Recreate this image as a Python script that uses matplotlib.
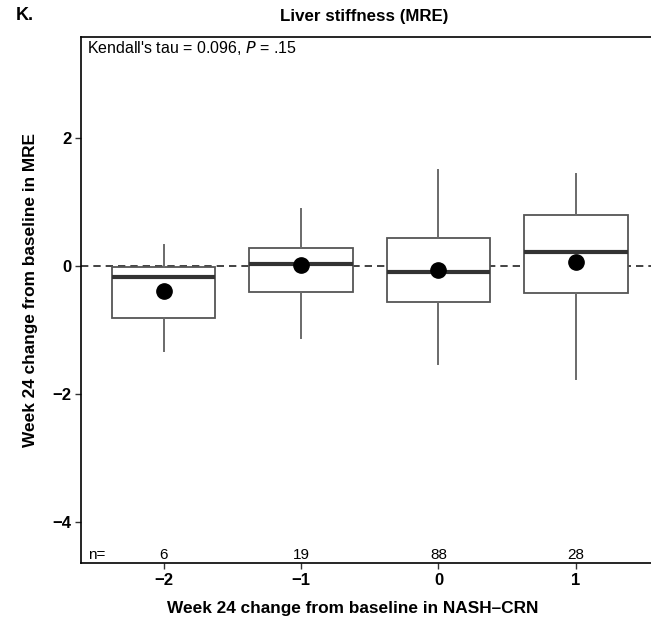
import matplotlib
matplotlib.use("Agg")
import matplotlib.pyplot as plt

categories = [-2, -1, 0, 1]
n_counts = [6, 19, 88, 28]
q1 = [-0.81, -0.41, -0.57, -0.43]
median = [-0.17, 0.03, -0.09, 0.22]
q3 = [-0.01, 0.28, 0.44, 0.80]
whislo = [-1.33, -1.12, -1.53, -1.77]
whishi = [0.33, 0.89, 1.49, 1.44]
means = [-0.40, 0.01, -0.06, 0.06]

plt.rcParams['font.family'] = ['Liberation Sans', 'DejaVu Sans']

W, H = 651, 622
fig = plt.figure(figsize=(W / 100, H / 100), dpi=100)
left, right, top, bottom = 81, 658.5, 37.3, 563.3
ax = fig.add_axes([left / W, 1 - bottom / H, (right - left) / W, (bottom - top) / H])

ax.axhline(0, color='#222222', lw=1.2, ls=(0, (4.4, 3.0)), zorder=1)

stats = []
for i in range(len(categories)):
    stats.append(dict(med=median[i], q1=q1[i], q3=q3[i], whislo=whislo[i],
                      whishi=whishi[i], fliers=[], label=str(categories[i])))
ax.bxp(stats, positions=categories, widths=0.75, showfliers=False, showcaps=False,
       patch_artist=True,
       boxprops=dict(facecolor='white', edgecolor='#555555', lw=1.3),
       whiskerprops=dict(color='#6a6a6a', lw=1.4),
       medianprops=dict(color='#333333', lw=3.0, solid_capstyle='butt'),
       zorder=2)
ax.plot(categories, means, 'o', color='black', ms=11, zorder=4)

for c, n in zip(categories, n_counts):
    ax.text(c, -4.52, str(n), ha='center', va='center', fontsize=11)
ax.text(-2.55, -4.52, 'n=', ha='left', va='center', fontsize=11)

ax.text(0.011, 0.996, "Kendall's tau = 0.096, $\\it{P}$ = .15", transform=ax.transAxes,
        ha='left', va='top', fontsize=11.5)

ax.set_xlim(-2.6, 1.6)
ax.set_ylim(-4.645, 3.57)
ax.set_xticks(categories)
ax.set_xticklabels(['\u22122', '\u22121', '0', '1'])
ax.set_yticks([-4, -2, 0, 2])
ax.set_yticklabels(['\u22124', '\u22122', '0', '2'])
for lab in ax.get_xticklabels() + ax.get_yticklabels():
    lab.set_fontweight('bold')
    lab.set_fontsize(12)
ax.tick_params(direction='out', length=4, width=1, color='#333333', pad=3)
for s in ax.spines.values():
    s.set_linewidth(1.2)

ax.set_xlabel('Week 24 change from baseline in NASH\u2013CRN', fontsize=12.4,
              fontweight='bold')
ax.xaxis.set_label_coords(0.47, -0.072)
ax.set_ylabel('Week 24 change from baseline in MRE', fontsize=12.4,
              fontweight='bold')
ax.yaxis.set_label_coords(-(81 - 38) / (right - left), 0.52)

fig.text(364 / W, 1 - 16 / H, 'Liver stiffness (MRE)', ha='center', va='center',
         fontsize=12.2, fontweight='bold')
fig.text(16 / W, 1 - 15 / H, 'K.', ha='left', va='center', fontsize=13, fontweight='bold')

fig.savefig('out.png', dpi=100)
